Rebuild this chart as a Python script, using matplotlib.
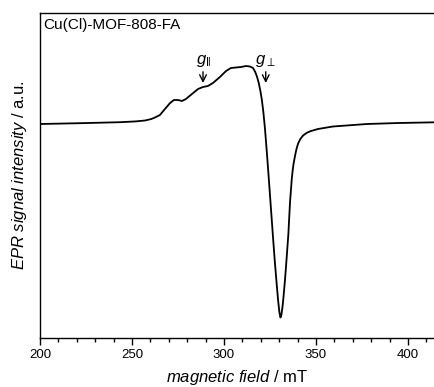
import matplotlib
matplotlib.use("Agg")
import matplotlib.pyplot as plt
from matplotlib.ticker import MultipleLocator

plt.rcParams['font.family'] = ['Liberation Sans', 'DejaVu Sans']
plt.rcParams['mathtext.fontset'] = 'custom'
plt.rcParams['mathtext.rm'] = 'Liberation Sans'
plt.rcParams['mathtext.it'] = 'Liberation Sans:italic'
plt.rcParams['mathtext.bf'] = 'Liberation Sans:bold'

field_mT = [200, 221.7, 243.5, 252.0, 257.1, 260.5, 262.5, 265.2, 267.9, 270.7,
            272.8, 275.0, 277.2, 279.3, 282.6, 285.9, 288.6, 291.3, 294.0, 297.8,
            301.1, 303.8, 306.5, 309.2, 312.0, 314.1, 315.8, 317.0, 318.0, 318.9,
            319.8, 320.6, 321.4, 322.3, 323.2, 324.1, 325.0, 325.9, 326.8, 327.7,
            328.6, 329.4, 330.1, 330.7, 331.2, 331.8, 332.3, 333.2, 334.1, 335.0,
            335.9, 336.4, 336.8, 337.3, 337.8, 338.6, 339.4, 340.3, 341.5, 343.0,
            345.0, 347.0, 351.1, 359.2, 377.7, 395.0, 414.7]
intensity = [0, 0.8, 1.8, 2.6, 3.5, 5.0, 6.5, 9, 15, 21,
             24, 24, 23, 25, 30, 35, 37, 38, 41, 47,
             53, 56, 56.5, 57, 58, 57.5, 56, 52, 47, 41,
             33, 24, 12, -5, -26, -48, -71, -94, -117, -139,
             -159, -176, -188, -193.5, -191, -183, -174, -155, -133, -110,
             -78, -66, -56, -47, -40, -32, -25, -19.5, -15, -11.5,
             -8.8, -7.2, -5, -2.5, 0, 1.0, 1.7]

sample_label = "Cu(Cl)-MOF-808-FA"
g_par_field = 288.6
g_perp_field = 322.7

fig = plt.figure(figsize=(4.35, 3.87), dpi=100)
ax = fig.add_axes([40/435, 49/387, 395/435, 325/387])
ax.plot(field_mT, intensity, color='black', lw=1.3)
ax.set_xlim(200, 414.7)
ax.set_ylim(-214, 111)
ax.set_yticks([])
ax.xaxis.set_major_locator(MultipleLocator(50))
ax.xaxis.set_minor_locator(MultipleLocator(10))
ax.tick_params(axis='x', which='major', direction='out', length=5, width=1, labelsize=9.5, pad=3)
ax.tick_params(axis='x', which='minor', direction='out', length=3, width=1)
ax.spines['right'].set_visible(False)
for s in ['left', 'top', 'bottom']:
    ax.spines[s].set_linewidth(1)

ax.set_xlabel(r'$\it{magnetic\ field}$ / mT', fontsize=12, labelpad=5)
ax.set_ylabel(r'$\it{EPR\ signal\ intensity}$ / a.u.', fontsize=12, labelpad=8)
ax.text(0.008, 0.985, sample_label, transform=ax.transAxes, ha='left', va='top', fontsize=11)

ax.annotate(r'$g_{\Vert}$', xy=(g_par_field, 41), xytext=(g_par_field, 55),
            ha='center', va='bottom', fontsize=12,
            arrowprops=dict(arrowstyle='->', color='black', lw=1, shrinkA=0, shrinkB=0))
ax.annotate(r'$g_{\perp}$', xy=(g_perp_field, 41), xytext=(g_perp_field, 55),
            ha='center', va='bottom', fontsize=12,
            arrowprops=dict(arrowstyle='->', color='black', lw=1, shrinkA=0, shrinkB=0))

fig.savefig('out.png', dpi=100)
